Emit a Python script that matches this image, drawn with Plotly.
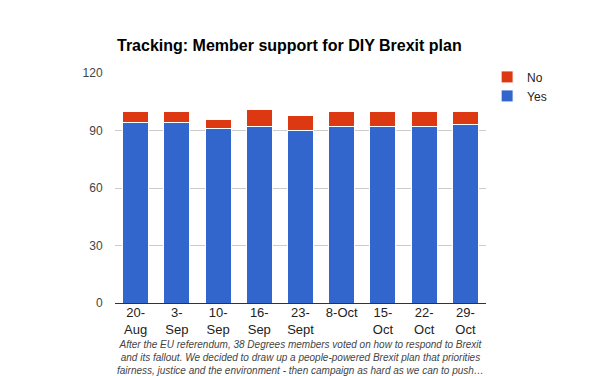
import plotly.graph_objects as go

categories = ["20-<br>Aug", "3-<br>Sep", "10-<br>Sep", "16-<br>Sep", "23-<br>Sept",
              "8-Oct", "15-<br>Oct", "22-<br>Oct", "29-<br>Oct"]
yes_values = [94, 94, 91, 92, 90, 92, 92, 92, 93]
no_values = [6, 6, 5, 9, 8, 8, 8, 8, 7]
y_ticks = [0, 30, 60, 90, 120]

title_text = "Tracking: Member support for DIY Brexit plan"
caption = ("After the EU referendum, 38 Degrees members voted on how to respond to Brexit<br>"
           "and its fallout. We decided to draw up a people-powered Brexit plan that priorities<br>"
           "fairness, justice and the environment - then campaign as hard as we can to push…")

FONT = "Arial, Liberation Sans, sans-serif"

fig = go.Figure()
fig.add_trace(go.Bar(x=categories, y=yes_values, name="Yes",
                     marker=dict(color="#3366cc", line=dict(color="white", width=1))))
fig.add_trace(go.Bar(x=categories, y=no_values, name="No",
                     marker=dict(color="#dc3912", line=dict(color="white", width=1))))

fig.update_layout(
    width=600, height=376,
    margin=dict(l=115, r=114, t=73, b=73, autoexpand=False),
    paper_bgcolor="white", plot_bgcolor="white",
    barmode="stack", bargap=0.37,
    font=dict(family=FONT, size=12, color="#222222"),
    title=dict(text="<b>" + title_text + "</b>", x=117 / 600, xanchor="left",
               y=1 - 45 / 376, yanchor="middle", yref="container",
               font=dict(family=FONT, size=16, color="#000000")),
    legend=dict(x=1.003, y=1.046, xanchor="left", yanchor="top",
                traceorder="reversed", font=dict(family=FONT, size=12, color="#222222"),
                itemclick=False, tracegroupgap=0),
    yaxis=dict(range=[0, 120], tickvals=y_ticks, showgrid=True, gridcolor="#cccccc",
               zeroline=True, zerolinecolor="#333333", zerolinewidth=1,
               ticks="outside", ticklen=9, tickcolor="rgba(0,0,0,0)",
               tickfont=dict(color="#444444", size=12), fixedrange=True, automargin=False),
    xaxis=dict(tickfont=dict(color="#222222", size=13), showline=False, fixedrange=True,
               automargin=False),
    showlegend=True,
)

fig.add_annotation(text="<i>" + caption + "</i>", xref="paper", yref="paper",
                   x=0.5, y=-(337 - 303) / 230, xanchor="center", yanchor="top",
                   showarrow=False, align="center",
                   font=dict(family=FONT, size=10, color="#444444"))

fig.write_html("out.html", config={"displayModeBar": False},
               post_script="document.body.style.margin='0';")
